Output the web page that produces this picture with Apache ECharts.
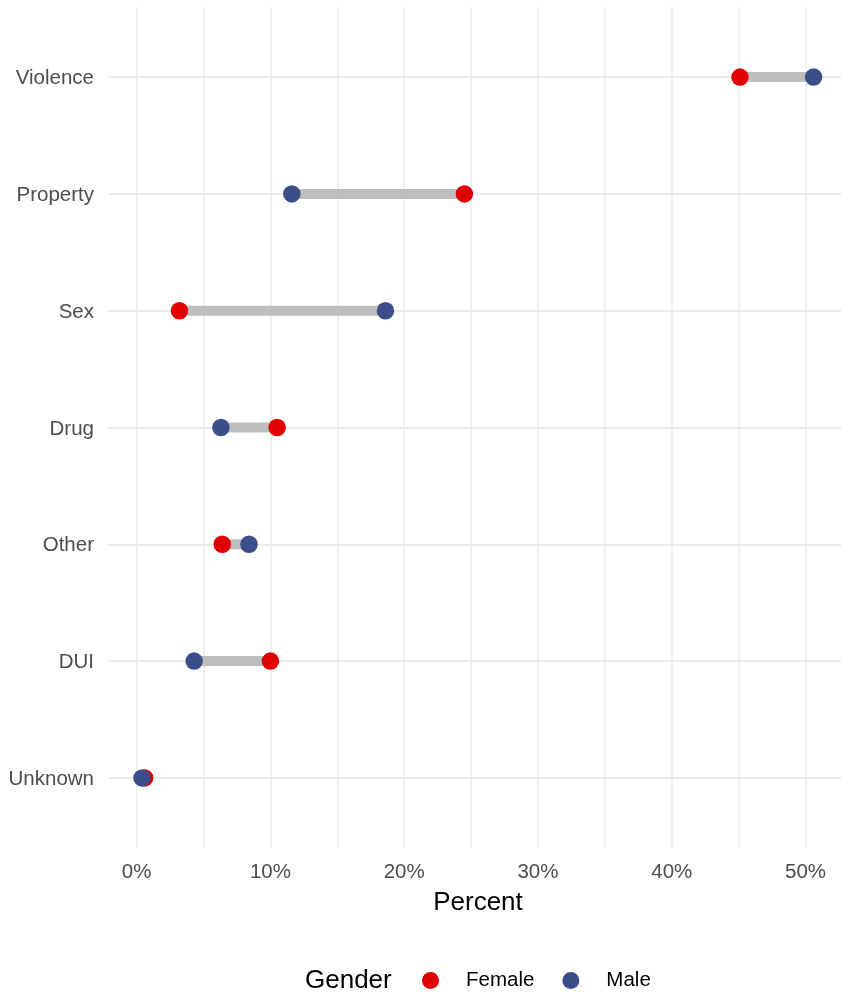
<!DOCTYPE html>
<html>
<head>
<meta charset="utf-8">
<script src="https://cdn.jsdelivr.net/npm/echarts@6/dist/echarts.min.js"></script>
<style>
html,body{margin:0;padding:0;background:#fff;}
#chart{width:841px;height:994px;}
</style>
</head>
<body>
<div id="chart"></div>
<script>
const categories = ['Violence','Property','Sex','Drug','Other','DUI','Unknown'];
const female = [45.1, 24.5, 3.2, 10.5, 6.4, 10.0, 0.6];
const male   = [50.6, 11.6, 18.6, 6.3, 8.4, 4.3, 0.4];
const xMajorTicks = [0, 10, 20, 30, 40, 50];
const xGridTicks = [0, 5, 10, 15, 20, 25, 30, 35, 40, 45, 50];
const seriesNames = ['Female', 'Male'];
const legendTitle = 'Gender';
const xTitle = 'Percent';

const FONT = '"Liberation Sans", Arial, Helvetica, sans-serif';
const RED = '#E00000';
const BLUE = '#3C4E8A';

const idx = categories.map((c, i) => i);
const segData = idx.map(i => [female[i], i, male[i]]);
const femaleData = idx.map(i => [female[i], i]);
const maleData = idx.map(i => [male[i], i]);

const chart = echarts.init(document.getElementById('chart'), null, {renderer: 'canvas'});
chart.setOption({
  animation: false,
  backgroundColor: '#ffffff',
  textStyle: {fontFamily: FONT},
  grid: {left: 108, top: 7, right: 0, height: 841, containLabel: false},
  xAxis: {
    type: 'value',
    min: -2.14,
    max: 52.65,
    name: xTitle,
    nameLocation: 'middle',
    nameGap: 42,
    nameTextStyle: {fontSize: 26, color: '#000000', fontFamily: FONT, padding: [0, 0, 0, 7]},
    axisLine: {show: false},
    axisTick: {show: false, customValues: xGridTicks},
    axisLabel: {
      customValues: xMajorTicks,
      formatter: v => v + '%',
      fontSize: 20.5, color: '#4D4D4D', margin: 14, fontFamily: FONT
    },
    splitLine: {show: true, lineStyle: {color: '#EBEBEB', width: 1.5}}
  },
  yAxis: {
    type: 'value',
    inverse: true,
    min: -0.6,
    max: 6.6,
    axisLine: {show: false},
    axisTick: {show: false, customValues: idx},
    axisLabel: {
      customValues: idx,
      formatter: v => '{c|' + categories[Math.round(v)] + '}',
      margin: 14,
      rich: {
        c: {fontSize: 20.5, color: '#4D4D4D', fontFamily: FONT, padding: [3, 0, 0, 0]}
      }
    },
    splitLine: {show: true, lineStyle: {color: '#EBEBEB', width: 1.8}}
  },
  legend: {
    left: 417,
    top: 965,
    itemWidth: 61,
    itemHeight: 17,
    itemGap: 28,
    icon: 'circle',
    data: seriesNames,
    textStyle: {fontSize: 20.5, color: '#000000', fontFamily: FONT}
  },
  graphic: [{
    type: 'text',
    left: 305,
    top: 968,
    style: {text: legendTitle, fontSize: 26, fill: '#000000', font: '26px ' + FONT}
  }],
  series: [
    {
      type: 'custom',
      name: 'segment',
      data: segData,
      encode: {x: [0, 2], y: 1},
      renderItem: function (params, api) {
        const p1 = api.coord([api.value(0), api.value(1)]);
        const p2 = api.coord([api.value(2), api.value(1)]);
        return {
          type: 'line',
          shape: {x1: p1[0], y1: p1[1], x2: p2[0], y2: p2[1]},
          style: {stroke: '#BEBEBE', lineWidth: 10}
        };
      },
      silent: true,
      z: 1
    },
    {
      type: 'scatter',
      name: seriesNames[0],
      data: femaleData,
      symbol: 'circle',
      symbolSize: 17.5,
      itemStyle: {color: RED, opacity: 1},
      z: 2
    },
    {
      type: 'scatter',
      name: seriesNames[1],
      data: maleData,
      symbol: 'circle',
      symbolSize: 17.5,
      itemStyle: {color: BLUE, opacity: 1},
      z: 3
    }
  ]
});
</script>
</body>
</html>
